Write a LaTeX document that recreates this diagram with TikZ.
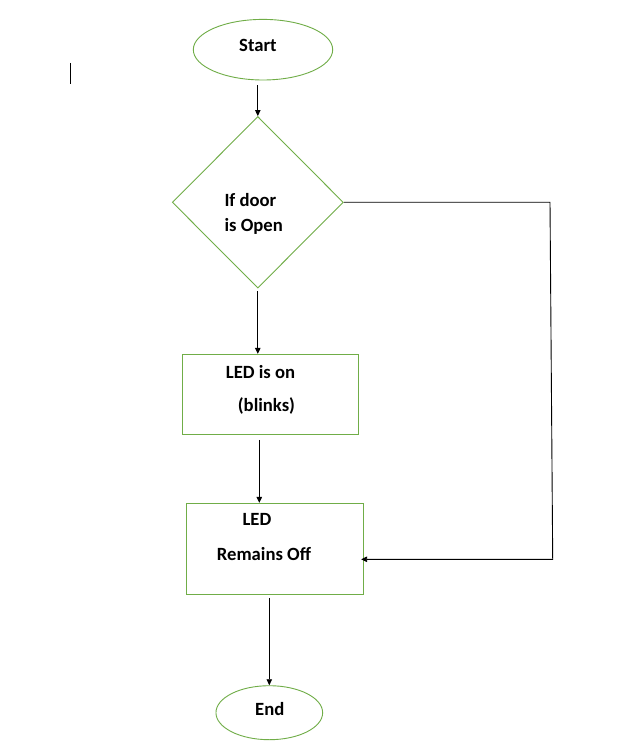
\documentclass[tikz,border=0pt]{standalone}
\usepackage{fontspec}
\setmainfont{Carlito}
\usetikzlibrary{shapes.geometric,arrows.meta,calc}
\definecolor{shapegreen}{HTML}{70AD47}
\begin{document}
\begin{tikzpicture}[x=1pt,y=-1pt,
  shapeline/.style={draw=shapegreen, line width=0.9pt, inner sep=0pt},
  oval/.style={shapeline, ellipse},
  decision/.style={shapeline, diamond},
  stepbox/.style={shapeline, rectangle},
  lbl/.style={anchor=base west, inner sep=0pt, font=\fontsize{18.67}{22}\selectfont\bfseries},
  conn/.style={draw=black, line width=0.9pt},
  arr/.style={conn, -{Triangle[length=6pt,width=5.5pt]}}
]
\useasboundingbox[fill=white] (0,0) rectangle (623,751);

% shapes
\node[oval, minimum width=139.4pt, minimum height=60.6pt] (start) at (263,49.7) {};
\node[decision, minimum width=171pt, minimum height=171.6pt] (dec) at (257.8,202.3) {};
\node[stepbox, minimum width=176.4pt, minimum height=80pt] (box1) at (270.5,394.3) {};
\node[stepbox, minimum width=177.4pt, minimum height=91pt] (box2) at (275,548.8) {};
\node[oval, minimum width=106.7pt, minimum height=54pt] (end) at (269.3,712.7) {};

% labels
\node[lbl] (tStart) at (239,51.7) {Start};
\node[lbl] (tIf) at (224.3,207) {If door};
\node[lbl] (tOpen) at (224.3,231) {is Open};
\node[lbl] (tOn) at (225.7,378) {LED is on};
\node[lbl] (tBlink) at (237.7,411.5) {(blinks)};
\node[lbl] (tLed) at (242.3,525.7) {LED};
\node[lbl] (tOff) at (216.7,560) {Remains Off};
\node[lbl] (tEnd) at (255,715.7) {End};

% helper coordinates
\coordinate (cornerTR) at (550,202.3);
\coordinate (cornerBR) at (552.7,559.3);
\coordinate (cursorTop) at (70,63);
\coordinate (cursorBot) at (70,84);

% connectors
\draw[arr, shorten <=5pt] (dec.north |- start.south) -- (dec.north);
\draw[arr, shorten <=2.5pt] (dec.south) -- (dec.south |- box1.north);
\draw[arr, shorten <=5pt] ([xshift=-11.2pt]box1.south) -- ([xshift=-15.7pt]box2.north);
\draw[arr, shorten <=3pt] (box2.south -| end.north) -- (end.north);
\draw[arr] (dec.east) -- (cornerTR) -- (cornerBR) -- ([xshift=-3pt,yshift=-10.5pt]box2.east);

% text cursor mark
\draw[conn, line width=0.8pt] (cursorTop) -- (cursorBot);
\end{tikzpicture}
\end{document}
